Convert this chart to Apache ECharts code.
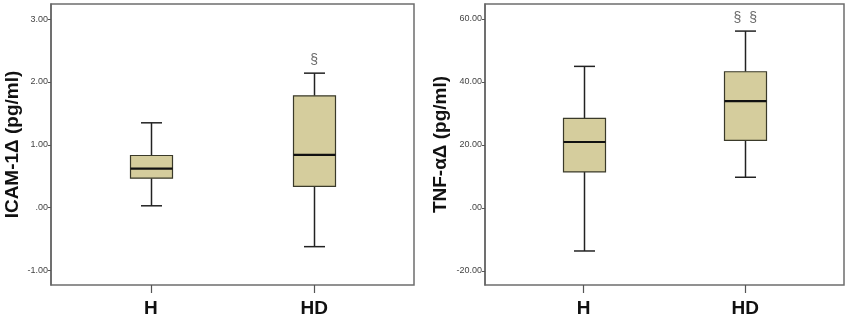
<!DOCTYPE html>
<html>
<head>
<meta charset="utf-8">
<script src="https://cdn.jsdelivr.net/npm/echarts@6/dist/echarts.min.js"></script>
<style>
  html, body { margin: 0; padding: 0; background: #fff; }
  #chart { width: 850px; height: 320px; }
</style>
</head>
<body>
<div id="chart"></div>
<script>
// groups on the x axis
var categories = ['H', 'HD']
var catPos = [0, 1]

// box values: [min, Q1, median, Q3, max]
var icamBox = [
  [0.03, 0.47, 0.62, 0.83, 1.35],
  [-0.62, 0.34, 0.84, 1.78, 2.14],
]
var tnfBox = [
  [-13.7, 11.4, 20.9, 28.4, 44.9],
  [9.7, 21.4, 33.9, 43.2, 56.1],
]

// y tick labels
var icamTicks = [-1, 0, 1, 2, 3]
var tnfTicks = [-20, 0, 20, 40, 60]

// significance marks: [group index, y value]
var icamSig = [[1, 2.35]]
var tnfSig = [[1, 60.3]]
var icamSigText = '§'
var tnfSigText = '§  §'

var FONT = 'Liberation Sans, Arial, sans-serif'
var BOX_W = 42

var myChart = echarts.init(document.getElementById('chart'))

function boxData(rows) {
  return rows.map(function (r, i) {
    return [catPos[i]].concat(r)
  })
}

// SPSS like box: half width whisker caps, thick median
function renderBox(params, api) {
  var x = api.value(0)
  var pMin = api.coord([x, api.value(1)])
  var pQ1 = api.coord([x, api.value(2)])
  var pMed = api.coord([x, api.value(3)])
  var pQ3 = api.coord([x, api.value(4)])
  var pMax = api.coord([x, api.value(5)])
  var cx = Math.round(pMed[0]) + 0.5
  var half = BOX_W / 2
  var cap = BOX_W / 4
  var lineStyle = { stroke: '#222', lineWidth: 1.5 }
  return {
    type: 'group',
    children: [
      { type: 'line', shape: { x1: cx, y1: pMax[1], x2: cx, y2: pQ3[1] }, style: lineStyle },
      { type: 'line', shape: { x1: cx, y1: pQ1[1], x2: cx, y2: pMin[1] }, style: lineStyle },
      { type: 'line', shape: { x1: cx - cap, y1: pMax[1], x2: cx + cap, y2: pMax[1] }, style: lineStyle },
      { type: 'line', shape: { x1: cx - cap, y1: pMin[1], x2: cx + cap, y2: pMin[1] }, style: lineStyle },
      {
        type: 'rect',
        shape: { x: cx - half, y: pQ3[1], width: BOX_W, height: pQ1[1] - pQ3[1] },
        style: { fill: '#d5cd9d', stroke: '#3a3a2a', lineWidth: 1.2 },
      },
      { type: 'line', shape: { x1: cx - half, y1: pMed[1], x2: cx + half, y2: pMed[1] }, style: { stroke: '#111', lineWidth: 2.2 } },
    ],
  }
}

function fmtTick(v) {
  if (v === 0) return '.00'
  return v.toFixed(2)
}

function makeX(gridIndex) {
  return {
    type: 'value',
    gridIndex: gridIndex,
    min: -0.611,
    max: 1.611,
    splitLine: { show: false },
    axisLine: { show: false, onZero: false },
    axisTick: { show: true, customValues: catPos, length: 8, lineStyle: { color: '#555', width: 1.2 } },
    axisLabel: {
      customValues: catPos,
      margin: 14,
      fontFamily: FONT,
      fontSize: 19,
      fontWeight: 'bold',
      color: '#111',
      formatter: function (v) { return categories[Math.round(v)] },
    },
  }
}

function makeY(gridIndex, name, min, max, ticks, gap) {
  return {
    type: 'value',
    gridIndex: gridIndex,
    name: name,
    nameLocation: 'middle',
    nameGap: gap,
    nameTextStyle: { fontFamily: FONT, fontSize: 19, fontWeight: 'bold', color: '#111' },
    min: min,
    max: max,
    splitLine: { show: false },
    axisLine: { show: true, onZero: false, lineStyle: { color: '#666', width: 1.5 } },
    axisTick: { show: true, customValues: ticks, length: 3, lineStyle: { color: '#555' } },
    axisLabel: {
      customValues: ticks,
      margin: 3,
      fontFamily: FONT,
      fontSize: 9,
      color: '#444',
      formatter: fmtTick,
    },
  }
}

function sigSeries(idx, data, text) {
  return {
    type: 'scatter',
    xAxisIndex: idx,
    yAxisIndex: idx,
    data: data,
    symbolSize: 1,
    itemStyle: { color: 'rgba(0,0,0,0)' },
    silent: true,
    label: {
      show: true,
      position: 'inside',
      formatter: text,
      fontFamily: FONT,
      fontSize: 14,
      color: '#444',
    },
  }
}

var option = {
  backgroundColor: '#fff',
  animation: false,
  grid: [
    { left: 51, top: 4, width: 363, height: 281, show: true, borderColor: '#6e6e6e', borderWidth: 1.5 },
    { left: 485, top: 4, width: 359, height: 281, show: true, borderColor: '#6e6e6e', borderWidth: 1.5 },
  ],
  xAxis: [makeX(0), makeX(1)],
  yAxis: [
    makeY(0, 'ICAM-1Δ (pg/ml)', -1.23, 3.24, icamTicks, 29),
    makeY(1, 'TNF-αΔ (pg/ml)', -24.5, 64.7, tnfTicks, 35),
  ],
  series: [
    {
      type: 'custom',
      xAxisIndex: 0,
      yAxisIndex: 0,
      renderItem: renderBox,
      encode: { x: 0, y: [1, 2, 3, 4, 5] },
      data: boxData(icamBox),
    },
    {
      type: 'custom',
      xAxisIndex: 1,
      yAxisIndex: 1,
      renderItem: renderBox,
      encode: { x: 0, y: [1, 2, 3, 4, 5] },
      data: boxData(tnfBox),
    },
    sigSeries(0, icamSig, icamSigText),
    sigSeries(1, tnfSig, tnfSigText),
  ],
}

myChart.setOption(option)
</script>
</body>
</html>
